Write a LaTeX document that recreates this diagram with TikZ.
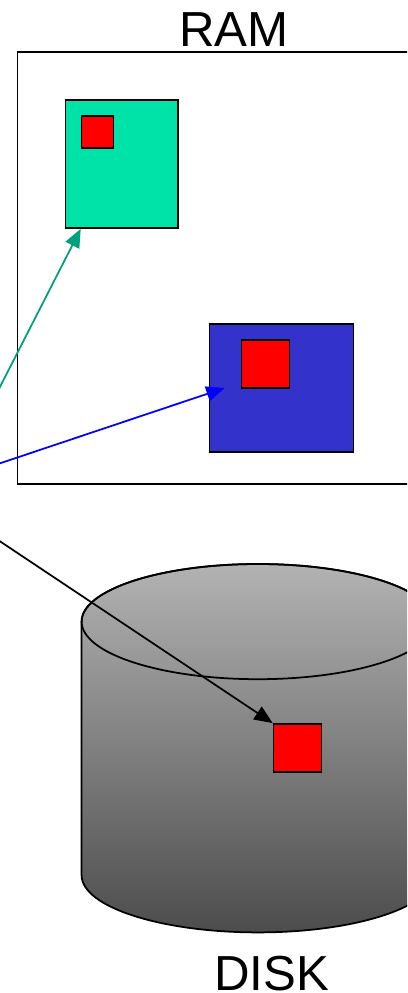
\documentclass[tikz,border=0pt]{standalone}
\usepackage{xcolor}
\usepackage{fontspec}
\setmainfont{Liberation Sans}
\usetikzlibrary{arrows.meta,calc,shapes.geometric}
\definecolor{segGreen}{RGB}{0,227,168}
\definecolor{segBlue}{RGB}{51,51,204}
\definecolor{ptrGreen}{RGB}{0,160,125}
\begin{document}
\begin{tikzpicture}[>={Triangle[length=4.6mm,width=3.8mm]},line width=1.25pt,
    font=\fontsize{35}{36}\selectfont,
    box/.style={draw,inner sep=0pt,minimum width=#1},
    page/.style={box=#1,minimum height=#1,fill=red},
    label/.style={anchor=base,inner sep=0pt}]
  \useasboundingbox (0,0) rectangle (10.175,-24.825);
  \clip (0,0) rectangle (10.175,-24.825);
  \node[box=10.8cm,minimum height=10.8cm] (ram) at (5.84,-6.7) {};
  \node[label] (ramlabel) at (5.85,-1.17) {RAM};
  \node[box=2.81cm,minimum height=3.2cm,fill=segGreen] (seggreen) at (3.04,-4.1) {};
  \node[box=3.6cm,minimum height=3.2cm,fill=segBlue] (segblue) at (7.04,-9.7) {};
  \node[page=0.8cm] (pagegreen) at (2.44,-3.3) {};
  \node[page=1.2cm] (pageblue) at (6.64,-9.1) {};
  % disk body
  \path[shade,top color=black!30,bottom color=black!70]
    (2.04,-15.54) arc[start angle=180,end angle=0,x radius=4.41,y radius=1.44]
    -- (10.86,-21.88) arc[start angle=0,end angle=-180,x radius=4.41,y radius=1.43] -- cycle;
  \draw (2.04,-15.54) arc[start angle=180,end angle=0,x radius=4.41,y radius=1.44]
    -- (10.86,-21.88) arc[start angle=0,end angle=-180,x radius=4.41,y radius=1.43] -- cycle;
  \node[ellipse,draw,inner sep=0pt,minimum width=8.82cm,minimum height=2.88cm] (disktop) at (6.45,-15.54) {};
  \node[page=1.2cm] (pagedisk) at (7.44,-18.7) {};
  \node[label] (disklabel) at (6.79,-24.75) {DISK};
  \coordinate (fromgreen) at (-0.5,-10.65);
  \coordinate (fromblue) at (-0.5,-11.75);
  \coordinate (fromdisk) at (-0.5,-13.2);
  \draw[->,ptrGreen] (fromgreen) -- (pagegreen.west |- seggreen.south);
  \draw[->,blue] (fromblue) -- ($(segblue.west)+(0.4,0)$);
  \draw[->] (fromdisk) -- (pagedisk.north west);
\end{tikzpicture}
\end{document}
